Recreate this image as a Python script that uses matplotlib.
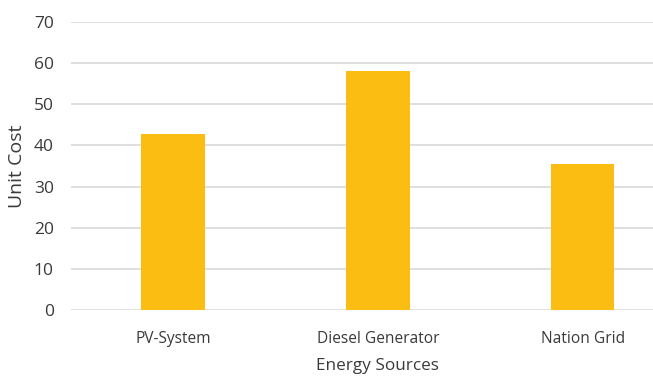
import matplotlib
matplotlib.use("Agg")
import matplotlib.pyplot as plt

categories = ["PV-System", "Diesel Generator", "Nation Grid"]
unit_cost = [42.7, 58.2, 35.5]
y_ticks = [0, 10, 20, 30, 40, 50, 60, 70]

plt.rcParams["font.family"] = ["Open Sans", "DejaVu Sans"]
text_color = "#3A3A3A"

fig = plt.figure(figsize=(6.53, 3.80), dpi=100)
ax = fig.add_axes([0.108, 0.184, 0.941, 0.758])

x = range(len(categories))
ax.bar(x, unit_cost, width=0.31, color="#FCBD12", zorder=3)

ax.set_xlim(-0.5, len(categories) - 0.5)
ax.set_ylim(0, 70)
ax.set_yticks(y_ticks)
ax.set_xticks(list(x))
ax.set_xticklabels(categories)

ax.grid(axis="y", color="#D9D9D9", linewidth=1.2, zorder=0)
for s in ax.spines.values():
    s.set_visible(False)
ax.tick_params(axis="both", length=0, colors=text_color)
ax.tick_params(axis="x", labelsize=11.2, pad=15)
ax.tick_params(axis="y", labelsize=12.5, pad=12)

ax.set_ylabel("Unit Cost", fontsize=14, color=text_color, labelpad=6)
ax.set_xlabel("Energy Sources", fontsize=12.3, color=text_color, labelpad=8)

fig.savefig("out.png", dpi=100)
